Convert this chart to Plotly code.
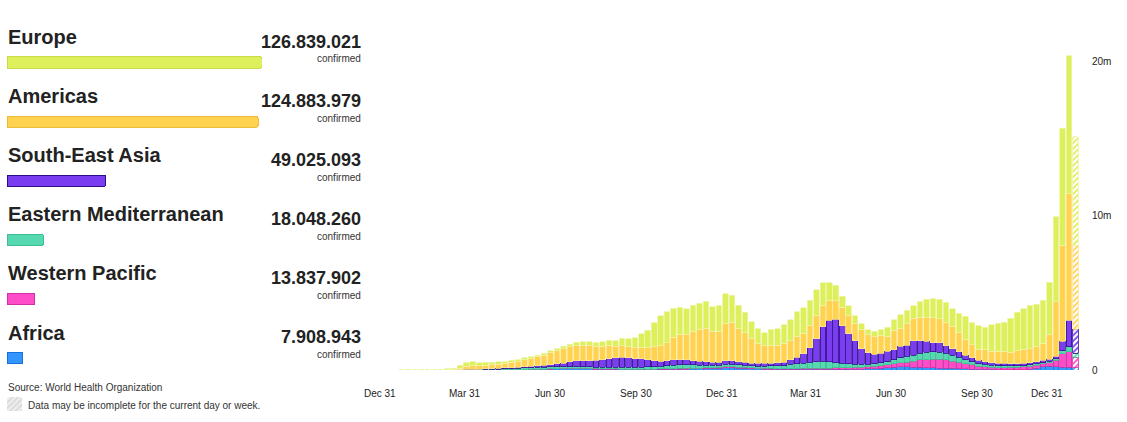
import plotly.graph_objects as go
import pandas as pd

# ---------------- data ----------------
regions = ["Europe", "Americas", "South-East Asia", "Eastern Mediterranean", "Western Pacific", "Africa"]
totals = [126839021, 124883979, 49025093, 18048260, 13837902, 7908943]
colors = ["#DDEF5B", "#FFD250", "#7A3DF0", "#56D9B0", "#FF4CC8", "#3396FF"]
left_line_colors = ["#C9DB47", "#EDBB3A", "#2B0E85", "#3DBE95", "#D12FA2", "#1A6FD8"]
main_line_colors = ["#EDF5A8", "#FFE398", "#35138F", "#3DBE95", "#D12FA2", "#1F72D6"]

first_week = "2019-12-30"
n_weeks = 108

# weekly new confirmed cases (millions), week 0 = week of 30 Dec 2019
europe = [0, 0, 0, 0, .00001, .00002, .00002, .00003, .002, .012,
          .045, .08, .2, .24, .25, .2, .19, .17, .14, .12, .12, .11, .11, .11, .12, .13, .13, .14, .15, .17, .19,
          .22, .24, .25, .30, .32, .36, .48, .52, .6, .86, 1.13, 1.55, 1.92, 2.0, 1.88, 1.76, 1.65, 1.68, 1.68, 1.76, 1.6, 1.66, 1.9, 1.75, 1.55,
          1.34, 1.08, .96, .87, .99, 1.06, 1.22, 1.39, 1.61, 1.69, 1.62, 1.66, 1.45, 1.15, .95, .71, .63, .48, .39, .32, .32, .39, .58, .7,
          .9, .86, .82, 1.02, 1.17, 1.21, 1.27, 1.35, 1.19, 1.23, 1.49, 1.4, 1.51, 1.46, 1.73, 1.83, 1.9, 2.2, 2.51, 2.61, 2.81, 2.7, 2.79, 3.37,
          5.51, 7.6, 8.92, 7.02]
americas = [0, 0, 0, 0, .000005, .000003, .000002, .000001, .00001, .0005,
            .008, .025, .09, .19, .22, .2, .23, .25, .28, .3, .36, .39, .46, .5, .57, .65, .75, .84, .93, .99, 1.0,
            .99, .99, .9, .86, .89, .74, .75, .73, .76, .76, .77, .93, 1.01, 1.15, 1.46, 1.64, 1.64, 1.9, 2.09, 2.16, 1.98, 2.01, 2.44, 2.48, 2.11,
            1.91, 1.61, 1.28, 1.13, 1.16, 1.14, 1.2, 1.23, 1.35, 1.31, 1.47, 1.51, 1.41, 1.3, 1.25, 1.19, 1.19, 1.16, 1.23, 1.19, 1.19, 1.12, .98, 1.23,
            1.13, 1.39, 1.45, 1.51, 1.55, 1.62, 1.56, 1.48, 1.4, 1.26, 1.03, .86, .74, .78, .74, .76, .76, .76, .84, .91, .91, 1.01, 1.12, 1.61,
            3.53, 6.22, 8.21, 5.46]
south_east_asia = [0, 0, 0, 0, 0, .000001, 0, 0, 0, .00003,
                   .0002, .002, .004, .008, .012, .02, .025, .03, .04, .05, .06, .07, .08, .09, .11, .13, .15, .19, .24, .31, .38,
                   .39, .41, .45, .49, .55, .62, .66, .61, .54, .53, .46, .38, .34, .35, .36, .34, .33, .28, .25, .23, .21, .18, .23, .24, .22,
                   .18, .18, .18, .18, .19, .19, .21, .29, .43, .6, .93, 1.49, 2.24, 2.69, 2.8, 2.45, 1.96, 1.51, 1.02, .74, .61, .64, .66, .65,
                   .76, .73, .94, .81, .71, .61, .61, .5, .44, .37, .29, .24, .2, .175, .16, .16, .175, .13, .13, .15, .14, .14, .14, .15,
                   .16, .61, 1.73, 1.56]
eastern_mediterranean = [0, 0, 0, 0, .000004, .000001, .000001, .00005, .0008, .006,
                         .01, .01, .015, .02, .025, .03, .035, .04, .045, .06, .07, .08, .1, .11, .12, .13, .13, .12, .11, .1, .1,
                         .1, .09, .08, .09, .09, .1, .1, .11, .11, .12, .14, .15, .16, .18, .21, .22, .22, .21, .19, .17, .15, .14, .15, .16, .15,
                         .14, .14, .14, .15, .16, .18, .2, .27, .31, .35, .39, .43, .44, .4, .34, .28, .23, .19, .17, .16, .16, .17, .19, .26,
                         .33, .37, .4, .44, .46, .47, .46, .42, .37, .32, .26, .21, .17, .15, .13, .12, .11, .1, .1, .09, .09, .08, .08, .09,
                         .12, .19, .32, .26]
western_pacific = [.00004, .00001, .0001, .002, .012, .02, .03, .008, .006, .006,
                   .006, .006, .008, .01, .01, .008, .008, .006, .006, .005, .005, .005, .005, .006, .008, .01, .012, .015, .02, .025, .025,
                   .03, .03, .03, .03, .03, .025, .025, .025, .025, .025, .025, .025, .03, .035, .04, .045, .05, .05, .05, .055, .055, .06, .08, .08, .07,
                   .07, .05, .04, .04, .04, .04, .04, .04, .04, .05, .06, .07, .07, .08, .1, .11, .12, .13, .13, .14, .15, .17, .19, .22,
                   .25, .3, .37, .48, .53, .56, .58, .54, .48, .42, .35, .28, .2, .17, .14, .13, .13, .14, .15, .17, .19, .2, .2, .22,
                   .4, .87, 1.02, .69]
africa = [0, 0, 0, 0, 0, 0, 0, 0, .000001, .00002,
          .0001, .001, .003, .004, .006, .007, .008, .01, .012, .015, .02, .02, .025, .03, .04, .05, .06, .07, .08, .09, .09,
          .085, .075, .065, .055, .05, .045, .04, .04, .04, .04, .04, .04, .045, .05, .055, .06, .065, .07, .075, .085, .1, .11, .13, .13, .11,
          .1, .08, .07, .06, .06, .05, .05, .05, .05, .05, .05, .05, .05, .04, .04, .04, .04, .05, .06, .07, .09, .12, .16, .19,
          .21, .21, .19, .17, .15, .14, .12, .11, .1, .08, .07, .06, .05, .04, .035, .03, .03, .025, .025, .03, .05, .12, .2, .25,
          .22, .18, .17, .13]

series = [europe, americas, south_east_asia, eastern_mediterranean, western_pacific, africa]

tick_dates = ["2019-12-31", "2020-03-31", "2020-06-30", "2020-09-30", "2020-12-31",
              "2021-03-31", "2021-06-30", "2021-09-30", "2021-12-31"]
tick_text = ["Dec 31", "Mar 31", "Jun 30", "Sep 30", "Dec 31", "Mar 31", "Jun 30", "Sep 30", "Dec 31"]

y_tickvals = [0, 10_000_000, 20_000_000]
y_ticktext = ["0", "10m", "20m"]

source_text = "Source: World Health Organization"
note_text = "Data may be incomplete for the current day or week."

# ---------------- layout helpers ----------------
W, H = 1127, 422
FONT = "Liberation Sans, Arial, Helvetica, sans-serif"


def fx(px):
    return px / W


def fy(px):
    return 1 - px / H


week_start = pd.date_range(first_week, periods=n_weeks, freq="7D")
x_bar = week_start + pd.Timedelta(days=3)
bar_width_ms = 6 * 86400000
base = pd.Timestamp("2019-12-31")

fig = go.Figure()

# stacked weekly bars, drawn bottom (Africa) to top (Europe)
last = n_weeks - 1
for idx in reversed(range(len(regions))):
    vals = [v * 1e6 for v in series[idx]]
    shapes = [""] * last + ["/"]
    fig.add_trace(go.Bar(
        x=x_bar, y=vals, width=bar_width_ms, name=regions[idx],
        marker=dict(color=colors[idx], line=dict(color=main_line_colors[idx], width=0.8),
                    pattern=dict(shape=shapes, fillmode="replace", bgcolor="white", size=4, solidity=0.45)),
        xaxis="x", yaxis="y", hoverinfo="skip", showlegend=False,
    ))

# left panel bars
fig.add_trace(go.Bar(
    x=totals, y=list(range(len(regions))), orientation="h", width=0.191,
    marker=dict(color=colors, line=dict(color=left_line_colors, width=1), cornerradius=2),
    xaxis="x3", yaxis="y3", hoverinfo="skip", showlegend=False,
))

# hatched note icon
fig.add_trace(go.Bar(
    x=[0], y=[1], width=1,
    marker=dict(color="#bdbdbd", line=dict(width=0), cornerradius=2,
                pattern=dict(shape="/", fgcolor="#bdbdbd", bgcolor="#efefef", size=4, solidity=0.4)),
    xaxis="x4", yaxis="y4", hoverinfo="skip", showlegend=False,
))

label_scale = pd.to_datetime(tick_dates)
annotations = []
for i, (name, tot) in enumerate(zip(regions, totals)):
    annotations.append(dict(text=name, xref="paper", yref="y3", x=fx(6), y=i - 0.431,
                            xanchor="left", yanchor="middle", showarrow=False,
                            font=dict(family=FONT, size=20, color="#222222", weight="bold")))
    annotations.append(dict(text=f"{tot:,}".replace(",", "."), xref="paper", yref="y3", x=fx(363), y=i - 0.352,
                            xanchor="right", yanchor="middle", showarrow=False,
                            font=dict(family=FONT, size=18, color="#222222", weight="bold")))
    annotations.append(dict(text="confirmed", xref="paper", yref="y3", x=fx(363), y=i - 0.06,
                            xanchor="right", yanchor="middle", showarrow=False,
                            font=dict(family=FONT, size=10, color="#333333")))

annotations.append(dict(text=source_text, xref="paper", yref="paper", x=fx(6), y=fy(387),
                        xanchor="left", yanchor="middle", showarrow=False,
                        font=dict(family=FONT, size=10, color="#333333")))
annotations.append(dict(text=note_text, xref="paper", yref="paper", x=fx(26), y=fy(405),
                        xanchor="left", yanchor="middle", showarrow=False,
                        font=dict(family=FONT, size=10, color="#333333")))

# label axis: dates mapped with the label time scale (x = 380 + 0.934 px/day from 2019-12-31)
lab_l = base + pd.Timedelta(days=-12.85)
lab_r = base + pd.Timedelta(days=750.54)
for j, (d, t) in enumerate(zip(label_scale, tick_text)):
    frac = (d - lab_l) / (lab_r - lab_l)
    px = 368 + frac * (1081 - 368)
    is_last = j == len(tick_dates) - 1
    annotations.append(dict(text=t, xref="paper", yref="paper", x=fx(px + (2 if is_last else 0)), y=fy(393.5),
                            xanchor="right" if is_last else "center", yanchor="middle",
                            showarrow=False, font=dict(family=FONT, size=10, color="#222222")))

fig.update_layout(
    width=W, height=H, autosize=False,
    margin=dict(l=0, r=0, t=0, b=0, pad=0, autoexpand=False),
    paper_bgcolor="white", plot_bgcolor="rgba(0,0,0,0)",
    barmode="stack", showlegend=False,
    font=dict(family=FONT, color="#222222"),
    xaxis=dict(type="date", domain=[fx(368), fx(1081)], automargin=False,
               range=[base + pd.Timedelta(days=-13.12), base + pd.Timedelta(days=756.86)],
               visible=False, anchor="y"),
    yaxis=dict(domain=[fy(370), fy(45)], range=[0, 21.06e6], side="right", anchor="x", automargin=False,
               tickvals=y_tickvals, ticktext=y_ticktext, showgrid=False, zeroline=False,
               showline=False, ticks="", ticklabelstandoff=10,
               tickfont=dict(family=FONT, size=10, color="#222222")),
    xaxis3=dict(domain=[fx(7), fx(262)], range=[0, totals[0]], visible=False, anchor="y3", automargin=False),
    yaxis3=dict(domain=[fy(387.6), fy(33)], range=[5.5, -0.5], visible=False, anchor="x3", automargin=False),
    xaxis4=dict(domain=[fx(7), fx(22)], range=[-0.5, 0.5], visible=False, anchor="y4", automargin=False),
    yaxis4=dict(domain=[fy(411), fy(397)], range=[0, 1], visible=False, anchor="x4", automargin=False),
    annotations=annotations,
)

fig.write_html("out.html")
